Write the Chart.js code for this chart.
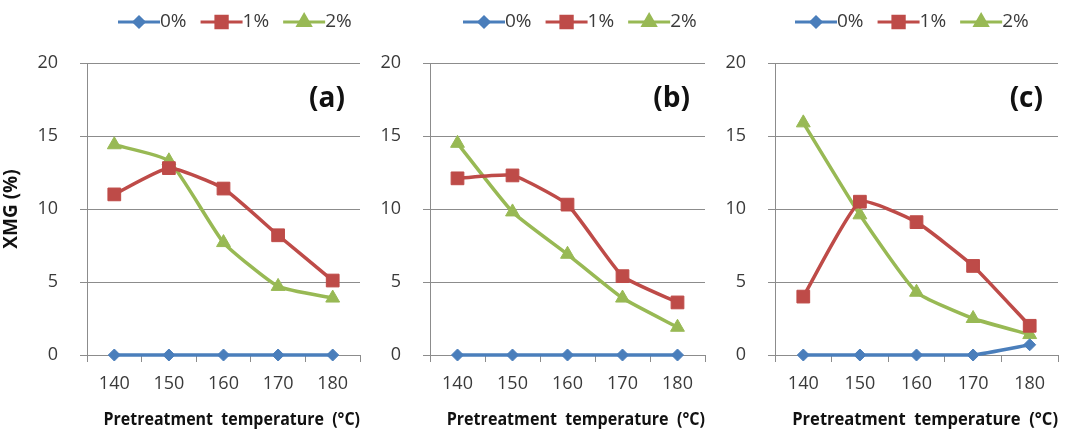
<!DOCTYPE html>
<html>
<head>
<meta charset="utf-8">
<script src="https://cdn.jsdelivr.net/npm/chart.js@4"></script>
<style>
  body { margin: 0; background: #fff; }
  .panel { position: absolute; top: 0; height: 436px; }
</style>
</head>
<body>
<div class="panel" style="left:0;width:370px"><canvas id="chartA"></canvas></div>
<div class="panel" style="left:370px;width:345px"><canvas id="chartB"></canvas></div>
<div class="panel" style="left:718px;width:354px"><canvas id="chartC"></canvas></div>
<script>
// pretreatment temperature (°C)
const temps = ['140', '150', '160', '170', '180'];
const seriesNames = ['0%', '1%', '2%'];
const yMin = 0, yMax = 20, yStep = 5;

// XMG (%)
const xmgA0 = [0, 0, 0, 0, 0];
const xmgA1 = [11.0, 12.8, 11.4, 8.2, 5.1];
const xmgA2 = [14.4, 13.3, 7.7, 4.7, 3.9];

const xmgB0 = [0, 0, 0, 0, 0];
const xmgB1 = [12.1, 12.3, 10.3, 5.4, 3.6];
const xmgB2 = [14.5, 9.8, 6.9, 3.9, 1.9];

const xmgC0 = [0, 0, 0, 0, 0.7];
const xmgC1 = [4.0, 10.5, 9.1, 6.1, 2.0];
const xmgC2 = [15.9, 9.6, 4.3, 2.5, 1.4];

const colors = ['#4a7ebb', '#be4b48', '#98b954'];
const markers = ['rectRot', 'rect', 'triangle'];
const markerRadius = [6, 9, 8];
const gridColor = '#8c8c8c';
const textColor = '#3a3a3a';
const fontFam = '"Open Sans", "DejaVu Sans", sans-serif';

// legend (line + marker) and the (a)/(b)/(c) tag
const decoPlugin = {
  id: 'deco',
  afterDraw(chart, args, opts) {
    const ctx = chart.ctx;
    ctx.save();
    let x = opts.legendX;
    const y = 22;
    ctx.font = '19px ' + fontFam;
    ctx.textBaseline = 'middle';
    chart.data.datasets.forEach((ds, i) => {
      ctx.strokeStyle = colors[i];
      ctx.fillStyle = colors[i];
      ctx.lineWidth = 3;
      ctx.beginPath();
      ctx.moveTo(x, y);
      ctx.lineTo(x + 42, y);
      ctx.stroke();
      Chart.helpers.drawPoint(ctx, { pointStyle: markers[i], radius: markerRadius[i] - 1, rotation: 0, borderWidth: 1 }, x + 21, y);
      ctx.fillStyle = textColor;
      ctx.textAlign = 'left';
      ctx.fillText(ds.label, x + 42, y);
      x += 42 + ctx.measureText(ds.label).width + 14;
    });
    ctx.font = 'bold 28px ' + fontFam;
    ctx.fillStyle = '#111';
    ctx.textAlign = 'right';
    ctx.fillText(opts.tag, chart.chartArea.right - 15, 99);
    ctx.restore();
  }
};

function makePanel(id, tag, values, axisW, padR, legendX, showYTitle) {
  new Chart(document.getElementById(id), {
    type: 'line',
    data: {
      labels: temps,
      datasets: values.map((v, i) => ({
        label: seriesNames[i],
        data: v,
        borderColor: colors[i],
        backgroundColor: colors[i],
        borderWidth: 3.5,
        tension: 0.15,
        pointStyle: markers[i],
        pointRadius: markerRadius[i],
        pointBorderWidth: 1,
        pointBackgroundColor: colors[i],
        pointBorderColor: colors[i],
        clip: false
      }))
    },
    options: {
      responsive: true,
      maintainAspectRatio: false,
      animation: false,
      layout: { padding: { top: 63, right: padR, bottom: 0, left: 0 } },
      plugins: {
        legend: { display: false },
        tooltip: { enabled: false },
        deco: { legendX: legendX, tag: tag }
      },
      scales: {
        x: {
          offset: true,
          grid: { offset: true, drawOnChartArea: false, drawTicks: true, tickLength: 7, color: gridColor },
          border: { color: gridColor },
          ticks: { padding: 11, color: textColor, font: { family: fontFam, size: 18 } },
          title: {
            display: true,
            text: '    Pretreatment  temperature  (°C)',
            color: '#111',
            font: { family: fontFam, size: 18, weight: 'bold' },
            padding: { top: 0, bottom: 5 }
          },
          afterFit(scale) { scale.height = 81; }
        },
        y: {
          min: yMin,
          max: yMax,
          ticks: { stepSize: yStep, padding: 22, color: textColor, font: { family: fontFam, size: 18 } },
          grid: { color: gridColor, tickLength: 7 },
          border: { color: gridColor },
          title: {
            display: showYTitle,
            text: 'XMG (%)',
            color: '#111',
            font: { family: fontFam, size: 19, weight: 'bold' },
            padding: { top: 0, bottom: 0 }
          },
          afterFit(scale) { scale.width = axisW; }
        }
      }
    },
    plugins: [decoPlugin]
  });
}

makePanel('chartA', '(a)', [xmgA0, xmgA1, xmgA2], 87, 3, 118, true);
makePanel('chartB', '(b)', [xmgB0, xmgB1, xmgB2], 60, 2, 93, false);
makePanel('chartC', '(c)', [xmgC0, xmgC1, xmgC2], 57, 14, 77, false);
</script>
</body>
</html>
